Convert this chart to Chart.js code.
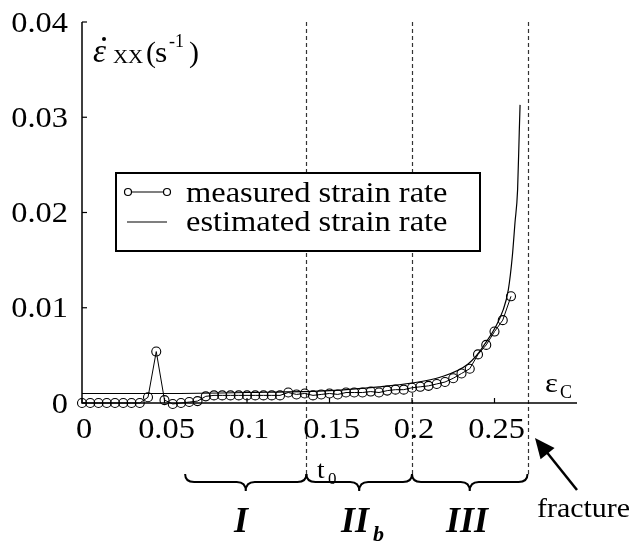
<!DOCTYPE html>
<html>
<head>
<meta charset="utf-8">
<script src="https://cdn.jsdelivr.net/npm/chart.js@4/dist/chart.umd.min.js"></script>
<style>
  html, body { margin: 0; padding: 0; background: #fff; }
  canvas { display: block; }
</style>
</head>
<body>
<canvas id="c" width="638" height="544"></canvas>
<script>
// measured strain rate, one sample every 0.005 of eps_C
const measuredX = [0, 0.005, 0.01, 0.015, 0.02, 0.025, 0.03, 0.035, 0.04, 0.045,
  0.05, 0.055, 0.06, 0.065, 0.07, 0.075, 0.08, 0.085, 0.09, 0.095,
  0.1, 0.105, 0.11, 0.115, 0.12, 0.125, 0.13, 0.135, 0.14, 0.145,
  0.15, 0.155, 0.16, 0.165, 0.17, 0.175, 0.18, 0.185, 0.19, 0.195,
  0.2, 0.205, 0.21, 0.215, 0.22, 0.225, 0.23, 0.235, 0.24, 0.245,
  0.25, 0.255, 0.26];
const measuredY = [0, 0, 0, 0, 0, 0, 0, 0, 0.0006, 0.0054,
  0.0003, -0.0001, 0, 0.0001, 0.0002, 0.0007, 0.0008, 0.0008, 0.0008, 0.0008,
  0.0008, 0.0008, 0.0008, 0.0008, 0.0008, 0.0011, 0.0009, 0.001, 0.0008, 0.0009,
  0.001, 0.0009, 0.0011, 0.0011, 0.0011, 0.0012, 0.0011, 0.0013, 0.0014, 0.0014,
  0.0016, 0.0017, 0.0018, 0.002, 0.0022, 0.0026, 0.0031, 0.0036, 0.0051, 0.0061,
  0.0075, 0.0087, 0.0112];

// estimated strain rate curve
const estimatedX = [0, 0.05, 0.1, 0.15, 0.18, 0.2, 0.217, 0.234, 0.243, 0.2553, 0.2584, 0.2608, 0.2624, 0.264, 0.265, 0.2655];
const estimatedY = [0.001, 0.001, 0.0011, 0.0013, 0.0017, 0.0021, 0.0027, 0.0041, 0.0059, 0.0098, 0.0119, 0.0154, 0.0189, 0.0224, 0.0284, 0.0313];

const xTicks = [0, 0.05, 0.1, 0.15, 0.2, 0.25];
const xTickLabels = ['0', '0.05', '0.1', '0.15', '0.2', '0.25'];
const yTicks = [0, 0.01, 0.02, 0.03, 0.04];
const yTickLabels = ['0', '0.01', '0.02', '0.03', '0.04'];

// stage boundaries: start of I, t0, end of IIb, fracture
const stageBounds = [0.0625, 0.136, 0.2, 0.27];
const dashedAt = [0.136, 0.2, 0.27];

const SERIF = '"Liberation Serif", "Times New Roman", Times, serif';

function txt(ctx, s, x, y, font, align, sx) {
  sx = sx || 1;
  ctx.save();
  ctx.font = font;
  ctx.textBaseline = 'alphabetic';
  ctx.textAlign = 'left';
  const w = ctx.measureText(s).width * sx;
  let x0 = x;
  if (align === 'center') x0 = x - w / 2;
  if (align === 'right') x0 = x - w;
  ctx.translate(x0, y);
  ctx.scale(sx, 1);
  ctx.fillStyle = '#000';
  ctx.fillText(s, 0, 0);
  ctx.restore();
  return w;
}

function brace(ctx, x1, x2, yTop, yFlat, yTip) {
  const xm = (x1 + x2) / 2, r = 9;
  ctx.beginPath();
  ctx.moveTo(x1, yTop);
  ctx.quadraticCurveTo(x1, yFlat, x1 + r, yFlat);
  ctx.lineTo(xm - r, yFlat);
  ctx.quadraticCurveTo(xm, yFlat, xm, yTip);
  ctx.quadraticCurveTo(xm, yFlat, xm + r, yFlat);
  ctx.lineTo(x2 - r, yFlat);
  ctx.quadraticCurveTo(x2, yFlat, x2, yTop);
  ctx.stroke();
}

const backdrop = {
  id: 'backdrop',
  beforeDatasetsDraw(chart) {
    const { ctx, chartArea: a, scales: { x, y } } = chart;
    ctx.save();
    ctx.strokeStyle = '#333';
    ctx.lineWidth = 1.2;
    ctx.setLineDash([4, 3]);
    dashedAt.forEach(v => {
      const px = Math.round(x.getPixelForValue(v)) + 0.5;
      ctx.beginPath();
      ctx.moveTo(px, y.getPixelForValue(0.04));
      ctx.lineTo(px, 477);
      ctx.stroke();
    });
    ctx.setLineDash([]);

    // axes
    ctx.strokeStyle = '#000';
    ctx.lineWidth = 1.5;
    ctx.beginPath();
    ctx.moveTo(a.left, a.top);
    ctx.lineTo(a.left, a.bottom);
    ctx.lineTo(a.right, a.bottom);
    ctx.stroke();

    ctx.lineWidth = 1.2;
    yTicks.forEach((v, i) => {
      const py = y.getPixelForValue(v);
      ctx.beginPath();
      ctx.moveTo(a.left, py);
      ctx.lineTo(a.left + 5, py);
      ctx.stroke();
      txt(ctx, yTickLabels[i], 68, py + 9.5, '30px ' + SERIF, 'right', 1.08);
    });
    xTicks.forEach((v, i) => {
      const px = x.getPixelForValue(v);
      ctx.beginPath();
      ctx.moveTo(px, a.bottom);
      ctx.lineTo(px, a.bottom - 5);
      ctx.stroke();
      txt(ctx, xTickLabels[i], px + 2, 438, '30px ' + SERIF, 'center', 1.08);
    });
    ctx.restore();
  },
  afterDraw(chart) {
    const { ctx, scales: { x } } = chart;
    ctx.save();
    ctx.fillStyle = '#000';
    ctx.strokeStyle = '#000';

    // y axis title: eps-dot_XX (s^-1)
    txt(ctx, '\u03b5', 93, 62, 'italic 33px ' + SERIF);
    ctx.beginPath();
    ctx.arc(104, 39, 2, 0, Math.PI * 2);
    ctx.fill();
    txt(ctx, 'XX', 113, 63, '19px ' + SERIF, 'left', 1.1);
    txt(ctx, '(', 146, 62, '30px ' + SERIF);
    txt(ctx, 's', 155, 62, '30px ' + SERIF, 'left', 1.05);
    txt(ctx, '-1', 169, 47, '18px ' + SERIF);
    txt(ctx, ')', 189, 62, '30px ' + SERIF);

    // x axis name
    txt(ctx, '\u03b5', 545, 392, '28px ' + SERIF, 'left', 1.1);
    txt(ctx, 'C', 560, 398, '18px ' + SERIF);

    // t0
    txt(ctx, 't', 317, 478, '25px ' + SERIF, 'left', 1.1);
    txt(ctx, '0', 328, 484, '17px ' + SERIF);

    // braces and stage labels
    ctx.lineWidth = 2;
    for (let i = 0; i < stageBounds.length - 1; i++) {
      brace(ctx, x.getPixelForValue(stageBounds[i]), x.getPixelForValue(stageBounds[i + 1]), 474, 482, 491);
    }
    const bi = 'italic bold 36px ' + SERIF;
    txt(ctx, 'I', 241, 532, bi, 'center');
    txt(ctx, 'II', 355, 532, bi, 'center');
    txt(ctx, 'b', 373, 541, 'italic bold 22px ' + SERIF);
    txt(ctx, 'III', 467, 532, bi, 'center');

    // fracture arrow
    txt(ctx, 'fracture', 537, 517, '28px ' + SERIF, 'left', 1.07);
    ctx.lineWidth = 2.5;
    ctx.beginPath();
    ctx.moveTo(577, 490);
    ctx.lineTo(545, 450);
    ctx.stroke();
    const ang = Math.atan2(438 - 490, 535 - 577);
    ctx.beginPath();
    ctx.moveTo(535, 438);
    ctx.lineTo(535 - 20 * Math.cos(ang) + 9 * Math.sin(ang), 438 - 20 * Math.sin(ang) - 9 * Math.cos(ang));
    ctx.lineTo(535 - 20 * Math.cos(ang) - 9 * Math.sin(ang), 438 - 20 * Math.sin(ang) + 9 * Math.cos(ang));
    ctx.closePath();
    ctx.fill();

    // legend box
    ctx.fillStyle = '#fff';
    ctx.fillRect(116, 173, 364, 78);
    ctx.lineWidth = 2;
    ctx.strokeRect(116, 173, 364, 78);
    ctx.fillStyle = '#000';
    ctx.lineWidth = 1.2;
    ctx.beginPath();
    ctx.moveTo(131, 192); ctx.lineTo(164, 192);
    ctx.moveTo(127, 222); ctx.lineTo(167, 222);
    ctx.stroke();
    [128, 167].forEach(cx => {
      ctx.beginPath();
      ctx.arc(cx, 192, 3.5, 0, Math.PI * 2);
      ctx.stroke();
    });
    txt(ctx, 'measured strain rate', 186, 202, '29px ' + SERIF, 'left', 1.12);
    txt(ctx, 'estimated strain rate', 186, 231, '29px ' + SERIF, 'left', 1.12);
    ctx.restore();
  }
};

const toPts = (xs, ys) => xs.map((v, i) => ({ x: v, y: ys[i] }));

function build() {
  new Chart(document.getElementById('c'), {
    type: 'scatter',
    data: {
      datasets: [
        {
          label: 'estimated strain rate',
          data: toPts(estimatedX, estimatedY),
          showLine: true,
          borderColor: '#000',
          borderWidth: 1.2,
          pointRadius: 0,
          cubicInterpolationMode: 'monotone',
          clip: false
        },
        {
          label: 'measured strain rate',
          data: toPts(measuredX, measuredY),
          showLine: true,
          borderColor: '#000',
          borderWidth: 1,
          pointRadius: 4.5,
          pointBorderWidth: 1.1,
          pointBackgroundColor: 'rgba(0,0,0,0)',
          pointBorderColor: '#000',
          clip: false
        }
      ]
    },
    options: {
      responsive: false,
      animation: false,
      layout: { padding: { left: 82, top: 22, right: 61, bottom: 141 } },
      plugins: { legend: { display: false }, tooltip: { enabled: false } },
      scales: {
        x: { type: 'linear', min: 0, max: 0.3, display: false },
        y: { type: 'linear', min: 0, max: 0.04, display: false }
      }
    },
    plugins: [backdrop]
  });
}

// make sure the serif face is ready before the canvas draws text
Promise.all([
  document.fonts.load('28px "Liberation Serif"'),
  document.fonts.load('italic 28px "Liberation Serif"'),
  document.fonts.load('italic bold 28px "Liberation Serif"')
]).then(build, build);
</script>
</body>
</html>
